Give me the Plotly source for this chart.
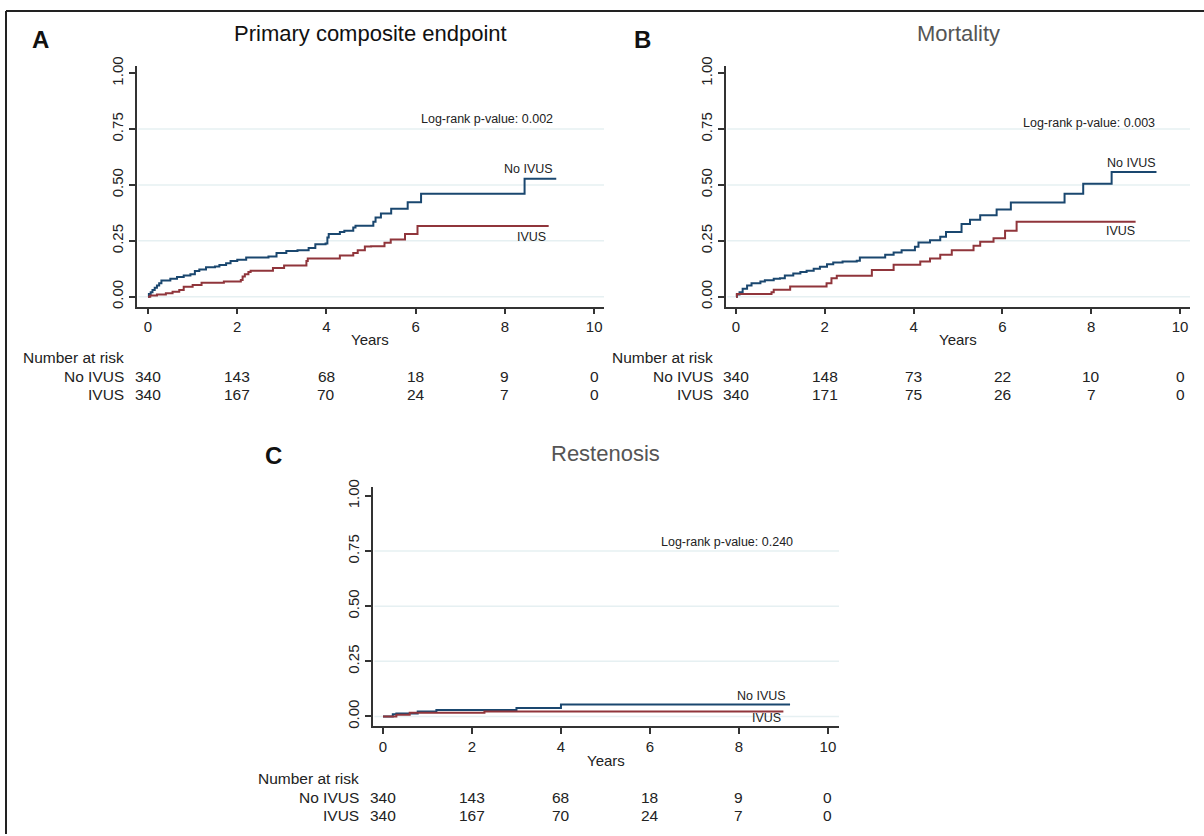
import plotly.graph_objects as go

W, H = 1204, 836

# ---------------- data ----------------
# Panel A: Primary composite endpoint
a_noivus_t = [0, 0.02, 0.06, 0.10, 0.15, 0.20, 0.25, 0.30, 0.50, 0.65, 0.80, 0.95, 1.05, 1.15, 1.30, 1.50,
              1.60, 1.75, 1.85, 2.00, 2.20, 2.70, 2.88, 3.10, 3.35, 3.60, 3.75, 3.98, 4.02, 4.05, 4.30, 4.40,
              4.60, 4.65, 5.05, 5.10, 5.22, 5.45, 5.82, 6.12, 8.44, 9.15]
a_noivus_y = [0, 0.012, 0.02, 0.03, 0.04, 0.05, 0.06, 0.072, 0.08, 0.088, 0.095, 0.10, 0.115, 0.122, 0.132, 0.135,
              0.142, 0.15, 0.16, 0.165, 0.175, 0.18, 0.195, 0.205, 0.208, 0.218, 0.235, 0.238, 0.265, 0.28, 0.29, 0.295,
              0.31, 0.317, 0.335, 0.354, 0.372, 0.394, 0.423, 0.461, 0.528, 0.528]
a_ivus_t = [0, 0.05, 0.20, 0.40, 0.55, 0.70, 0.80, 1.00, 1.20, 1.70, 2.08, 2.12, 2.17, 2.25, 2.30, 2.80,
            3.05, 3.55, 3.58, 4.30, 4.60, 4.70, 4.86, 5.00, 5.30, 5.44, 5.76, 6.04, 8.98]
a_ivus_y = [0, 0.005, 0.01, 0.015, 0.022, 0.03, 0.045, 0.052, 0.062, 0.068, 0.075, 0.09, 0.10, 0.11, 0.116, 0.128,
            0.14, 0.16, 0.171, 0.184, 0.195, 0.208, 0.225, 0.226, 0.241, 0.256, 0.28, 0.316, 0.316]

# Panel B: Mortality
b_noivus_t = [0, 0.02, 0.08, 0.15, 0.25, 0.35, 0.55, 0.65, 0.85, 0.99, 1.10, 1.29, 1.45, 1.59, 1.75, 1.89,
              2.05, 2.19, 2.40, 2.72, 2.79, 3.36, 3.55, 3.73, 4.03, 4.11, 4.37, 4.60, 4.73, 5.08, 5.27, 5.50,
              5.87, 6.19, 7.40, 7.82, 8.46, 9.47]
b_noivus_y = [0, 0.01, 0.02, 0.035, 0.05, 0.06, 0.068, 0.074, 0.08, 0.083, 0.095, 0.104, 0.11, 0.116, 0.125, 0.134,
              0.145, 0.153, 0.158, 0.161, 0.175, 0.1875, 0.198, 0.208, 0.223, 0.243, 0.253, 0.268, 0.29, 0.325, 0.344, 0.365,
              0.39, 0.421, 0.461, 0.506, 0.558, 0.558]
b_ivus_t = [0, 0.02, 0.80, 0.85, 1.22, 2.04, 2.15, 2.27, 3.06, 3.55, 4.15, 4.37, 4.60, 4.86, 5.35, 5.50,
            5.80, 6.06, 6.32, 9.00]
b_ivus_y = [0, 0.012, 0.02, 0.031, 0.046, 0.06, 0.083, 0.094, 0.119, 0.143, 0.158, 0.171, 0.1875, 0.208, 0.228, 0.246,
            0.262, 0.295, 0.335, 0.335]

# Panel C: Restenosis
c_noivus_t = [0, 0.22, 0.30, 0.78, 1.20, 3.00, 4.00, 9.15]
c_noivus_y = [0, 0.01, 0.014, 0.023, 0.029, 0.039, 0.054, 0.054]
c_ivus_t = [0, 0.30, 0.60, 2.28, 9.00]
c_ivus_y = [0, 0.008, 0.017, 0.023, 0.023]

risk_years = [0, 2, 4, 6, 8, 10]
a_risk_noivus = [340, 143, 68, 18, 9, 0]
a_risk_ivus = [340, 167, 70, 24, 7, 0]
b_risk_noivus = [340, 148, 73, 22, 10, 0]
b_risk_ivus = [340, 171, 75, 26, 7, 0]
c_risk_noivus = [340, 143, 68, 18, 9, 0]
c_risk_ivus = [340, 167, 70, 24, 7, 0]

y_ticks = [0, 0.25, 0.5, 0.75, 1.0]
y_ticklabels = ["0.00", "0.25", "0.50", "0.75", "1.00"]
x_ticks = [0, 2, 4, 6, 8, 10]
grid_levels = [0, 0.25, 0.5, 0.75]

titles = ["Primary composite endpoint", "Mortality", "Restenosis"]
letters = ["A", "B", "C"]
pvalues = ["Log-rank p-value: 0.002", "Log-rank p-value: 0.003", "Log-rank p-value: 0.240"]

# ---------------- style ----------------
NAVY = "#1a476f"
MAROON = "#90353b"
GRID = "#e6f0f2"
AXIS = "#333333"
FONT = "Liberation Sans, Arial, sans-serif"

# the captured page maps figure rows as  shown = V_OFF + V_SCALE * row
V_OFF, V_SCALE = 8.5, 0.9885


def px(x):
    return x / W


def py(y):
    row = (y - V_OFF) / V_SCALE
    return min(1.0, 1 - row / H)


# panel geometry in (target) pixels: (left, right, top, bottom), x-range, y-range
panels = [
    dict(l=137, r=604, t=65, b=306, xr=[-0.247, 10.22], yr=[-0.0446, 1.031],
         title_x=370, title_y=32, title_color="#111111", letter=(40, 38),
         years_y=339, nar_right=126, nar_y=357, row1=376, row2=394,
         pv=(9.13, 0.795), lab_no=(9.13, 0.571), lab_iv=(8.97, 0.268)),
    dict(l=726, r=1190, t=65, b=306, xr=[-0.225, 10.225], yr=[-0.0446, 1.031],
         title_x=958, title_y=32, title_color="#555555", letter=(642, 38),
         years_y=339, nar_right=715, nar_y=357, row1=376, row2=394,
         pv=(9.48, 0.777), lab_no=(9.5, 0.598), lab_iv=(9.03, 0.295)),
    dict(l=373, r=839, t=487, b=727, xr=[-0.225, 10.25], yr=[-0.045, 1.04],
         title_x=605, title_y=453, title_color="#555555", letter=(273, 455),
         years_y=761, nar_right=361, nar_y=779, row1=798, row2=816,
         pv=(9.26, 0.792), lab_no=(9.1, 0.095), lab_iv=(8.99, -0.009)),
]

series = [
    (a_noivus_t, a_noivus_y, a_ivus_t, a_ivus_y, a_risk_noivus, a_risk_ivus),
    (b_noivus_t, b_noivus_y, b_ivus_t, b_ivus_y, b_risk_noivus, b_risk_ivus),
    (c_noivus_t, c_noivus_y, c_ivus_t, c_ivus_y, c_risk_noivus, c_risk_ivus),
]

fig = go.Figure()
annotations = []
shapes = []

for i, (p, s) in enumerate(zip(panels, series)):
    n = "" if i == 0 else str(i + 1)
    xa, ya = "x" + n, "y" + n
    nt, ny, it, iy, rn, ri = s
    fig.add_trace(go.Scatter(x=nt, y=ny, mode="lines", line=dict(color=NAVY, width=2, shape="hv"),
                             xaxis=xa, yaxis=ya, showlegend=False, name="No IVUS", hoverinfo="skip"))
    fig.add_trace(go.Scatter(x=it, y=iy, mode="lines", line=dict(color=MAROON, width=2, shape="hv"),
                             xaxis=xa, yaxis=ya, showlegend=False, name="IVUS", hoverinfo="skip"))

    axis_common = dict(showline=True, linecolor=AXIS, linewidth=1.5, ticks="outside", ticklen=6,
                       tickwidth=1.5, tickcolor=AXIS, showgrid=False, zeroline=False,
                       tickfont=dict(family=FONT, size=15, color="#222222"))
    fig.update_layout(**{
        "xaxis" + n: dict(domain=[px(p["l"]), px(p["r"])], range=p["xr"], tickvals=x_ticks,
                          anchor=ya, **axis_common),
        "yaxis" + n: dict(domain=[py(p["b"]), py(p["t"])], range=p["yr"], tickvals=y_ticks,
                          ticktext=y_ticklabels, tickangle=-90, anchor=xa, **axis_common),
    })

    for g in grid_levels:
        shapes.append(dict(type="line", xref=xa + " domain", yref=ya, x0=0.003, x1=1, y0=g, y1=g,
                           line=dict(color=GRID, width=1.5), layer="below"))

    # titles and letters
    annotations.append(dict(x=px(p["title_x"]), y=py(p["title_y"]), xref="paper", yref="paper",
                            text=titles[i], showarrow=False, xanchor="center", yanchor="middle",
                            font=dict(family=FONT, size=22, color=p["title_color"])))
    annotations.append(dict(x=px(p["letter"][0]), y=py(p["letter"][1]), xref="paper", yref="paper",
                            text="<b>" + letters[i] + "</b>", showarrow=False, xanchor="center",
                            yanchor="middle", font=dict(family=FONT, size=24, color="#111111")))
    # x axis title
    annotations.append(dict(x=(p["l"] + p["r"]) / 2 / W, y=py(p["years_y"]), xref="paper", yref="paper",
                            text="Years", showarrow=False, xanchor="center", yanchor="middle",
                            font=dict(family=FONT, size=15, color="#222222")))
    # in-plot labels
    annotations.append(dict(x=p["pv"][0], y=p["pv"][1], xref=xa, yref=ya, text=pvalues[i],
                            showarrow=False, xanchor="right", yanchor="middle",
                            font=dict(family=FONT, size=12.5, color="#222222")))
    annotations.append(dict(x=p["lab_no"][0], y=p["lab_no"][1], xref=xa, yref=ya, text="No IVUS",
                            showarrow=False, xanchor="right", yanchor="middle",
                            font=dict(family=FONT, size=12.5, color="#222222")))
    annotations.append(dict(x=p["lab_iv"][0], y=p["lab_iv"][1], xref=xa, yref=ya, text="IVUS",
                            showarrow=False, xanchor="right", yanchor="middle",
                            font=dict(family=FONT, size=12.5, color="#222222")))
    # number at risk table
    annotations.append(dict(x=px(p["nar_right"]), y=py(p["nar_y"]), xref="paper", yref="paper",
                            text="Number at risk", showarrow=False, xanchor="right", yanchor="middle",
                            font=dict(family=FONT, size=15.5, color="#222222")))
    for rowy, lab, vals in [(p["row1"], "No IVUS", rn), (p["row2"], "IVUS", ri)]:
        annotations.append(dict(x=px(p["nar_right"]), y=py(rowy), xref="paper", yref="paper",
                                text=lab, showarrow=False, xanchor="right", yanchor="middle",
                                font=dict(family=FONT, size=15.5, color="#222222")))
        for yr, v in zip(risk_years, vals):
            annotations.append(dict(x=yr, y=py(rowy), xref=xa, yref="paper", text=str(v),
                                    showarrow=False, xanchor="center", yanchor="middle",
                                    font=dict(family=FONT, size=15.5, color="#222222")))

# outer frame (top and left edges visible)
top_frame = 1 - 1.0 / H
shapes.append(dict(type="line", xref="paper", yref="paper", x0=px(6), x1=1, y0=top_frame, y1=top_frame,
                   line=dict(color="#222222", width=2)))
shapes.append(dict(type="line", xref="paper", yref="paper", x0=px(6), x1=px(6), y0=0, y1=top_frame,
                   line=dict(color="#222222", width=2)))

fig.update_layout(width=W, height=H, margin=dict(l=0, r=0, t=0, b=0),
                  paper_bgcolor="white", plot_bgcolor="white",
                  annotations=annotations, shapes=shapes, showlegend=False,
                  font=dict(family=FONT), hovermode=False, autosize=False)

page_fix = (
    "var d=document.documentElement,b=document.body,g=document.getElementById('{plot_id}');"
    "d.style.margin='0';d.style.padding='0';d.style.overflow='hidden';"
    "b.style.margin='0';b.style.padding='0';b.style.overflow='hidden';"
    "g.style.position='absolute';g.style.top='0px';g.style.left='0px';"
)
fig.write_html("out.html", post_script=page_fix, config={"displayModeBar": False, "responsive": False})
